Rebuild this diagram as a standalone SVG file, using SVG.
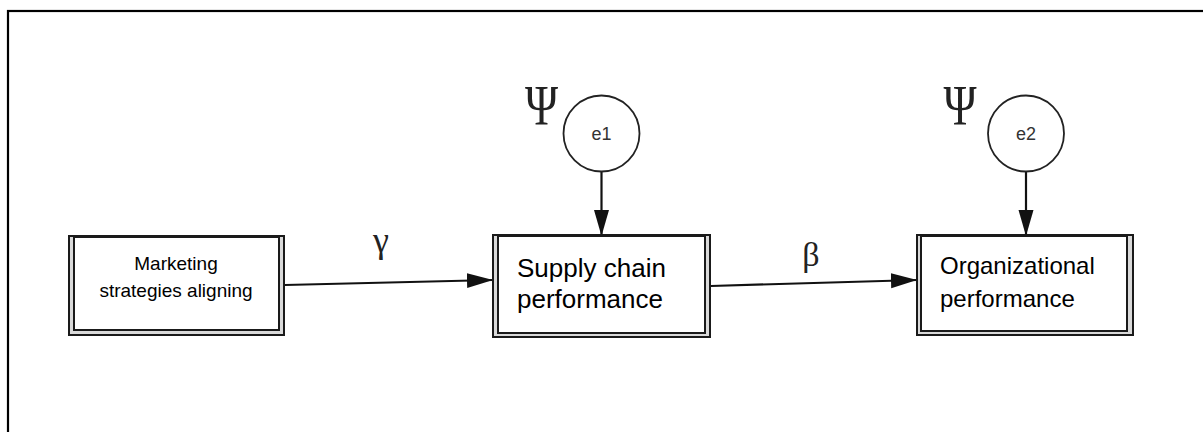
<svg xmlns="http://www.w3.org/2000/svg" width="1203" height="432" viewBox="0 0 1203 432">
<style>
.frame{fill:none;stroke:#000;stroke-width:2.2}
.outer{fill:#d9d9d9;stroke:#1a1a1a;stroke-width:2}
.inner{fill:#fff;stroke:#1a1a1a;stroke-width:2}
.circ{fill:#fff;stroke:#222;stroke-width:1.8}
.conn{stroke:#111;stroke-width:2.2;fill:none;marker-end:url(#ah)}
.lbl{font-family:"Liberation Sans",Arial,sans-serif;fill:#000}
.elbl{font-family:"Liberation Sans",Arial,sans-serif;font-size:18px;fill:#333;text-anchor:middle}
.greek{font-family:"Liberation Serif","Times New Roman",serif;fill:#222;text-anchor:middle}
</style>
<defs>
<marker id="ah" markerUnits="userSpaceOnUse" markerWidth="27" markerHeight="16" refX="26" refY="7.5" orient="auto">
<path d="M0,0 L26,7.5 L0,15 z" fill="#111"/>
</marker>
</defs>
<rect width="1203" height="432" fill="#fff"/>
<rect class="frame" x="8" y="11" width="1210" height="440"/>
<g id="connectors">
<line class="conn" x1="285" y1="285" x2="493" y2="280"/>
<line class="conn" x1="711" y1="286" x2="917" y2="280"/>
<line class="conn" x1="601.5" y1="171.5" x2="601.5" y2="236"/>
<line class="conn" x1="1026" y1="171.5" x2="1026" y2="236"/>
<text class="greek" x="381" y="252" font-size="36">γ</text>
<text class="greek" x="811" y="266" font-size="34">β</text>
</g>
<g id="node-marketing">
<rect class="outer" x="69" y="236" width="215" height="99"/>
<rect class="inner" x="74" y="237" width="205" height="93"/>
<text class="lbl" x="176" y="269.5" font-size="19" text-anchor="middle">Marketing</text>
<text class="lbl" x="176" y="297" font-size="19" text-anchor="middle">strategies aligning</text>
</g>
<g id="node-supply">
<rect class="outer" x="493" y="235" width="217" height="102"/>
<rect class="inner" x="498" y="236" width="207" height="97"/>
<text class="lbl" x="517" y="277" font-size="26">Supply chain</text>
<text class="lbl" x="517" y="308" font-size="26">performance</text>
</g>
<g id="node-org">
<rect class="outer" x="917" y="235" width="216" height="100"/>
<rect class="inner" x="921" y="236" width="206" height="95"/>
<text class="lbl" x="940" y="274" font-size="24">Organizational</text>
<text class="lbl" x="940" y="307" font-size="24">performance</text>
</g>
<g id="node-e1">
<circle class="circ" cx="601.5" cy="133.5" r="38"/>
<text class="elbl" x="601.5" y="140">e1</text>
<text class="greek" font-size="56" transform="translate(541.5,125) scale(0.8,1)">Ψ</text>
</g>
<g id="node-e2">
<circle class="circ" cx="1026" cy="133.5" r="38"/>
<text class="elbl" x="1026" y="140">e2</text>
<text class="greek" font-size="56" transform="translate(960,125) scale(0.8,1)">Ψ</text>
</g>
</svg>
